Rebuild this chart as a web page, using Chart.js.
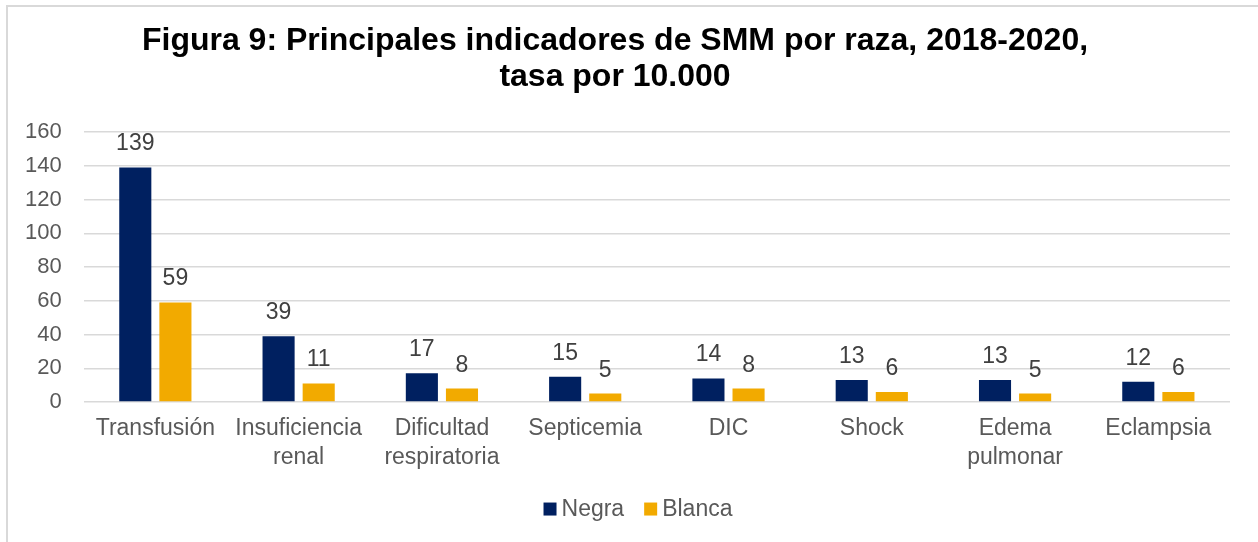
<!DOCTYPE html>
<html>
<head>
<meta charset="utf-8">
<script src="https://cdn.jsdelivr.net/npm/chart.js@4"></script>
<style>
    body { margin: 0; background: #fff; overflow: hidden; }
    #frame { position: absolute; left: 6px; top: 5px; width: 1300px; height: 600px; border: 2px solid #d9d9d9; }
    #wrap { position: absolute; left: 0; top: 0; width: 1232px; height: 542px; }
</style>
</head>
<body>
<div id="frame"></div>
<div id="wrap"><canvas id="chart"></canvas></div>
<script>
const categories = [
    "Transfusión",
    ["Insuficiencia", "renal"],
    ["Dificultad", "respiratoria"],
    "Septicemia",
    "DIC",
    "Shock",
    ["Edema", "pulmonar"],
    "Eclampsia"
];
const negra = [139, 39, 17, 15, 14, 13, 13, 12];
const blanca = [59, 11, 8, 5, 8, 6, 5, 6];
const yTicks = [0, 20, 40, 60, 80, 100, 120, 140, 160];

const fontFamily = "'Liberation Sans', Arial, sans-serif";

// value labels above each bar
const valueLabels = {
    id: "valueLabels",
    afterDatasetsDraw(chart) {
        const ctx = chart.ctx;
        ctx.save();
        ctx.font = "23px " + fontFamily;
        ctx.fillStyle = "#404040";
        ctx.textAlign = "center";
        ctx.textBaseline = "alphabetic";
        chart.data.datasets.forEach(function (ds, i) {
            const meta = chart.getDatasetMeta(i);
            meta.data.forEach(function (bar, j) {
                ctx.fillText(ds.data[j], bar.x, bar.y - 17);
            });
        });
        ctx.restore();
    }
};

// legend drawn by hand so the box/text spacing matches Excel
const bottomLegend = {
    id: "bottomLegend",
    afterDraw(chart) {
        const ctx = chart.ctx;
        const box = 13, gapText = 5, gapItem = 20;
        ctx.save();
        ctx.font = "23px " + fontFamily;
        ctx.textBaseline = "middle";
        ctx.textAlign = "left";
        const items = chart.data.datasets.map(ds => ({
            label: ds.label,
            color: ds.backgroundColor,
            w: box + gapText + ctx.measureText(ds.label).width
        }));
        let total = items.reduce((s, it) => s + it.w, 0) + gapItem * (items.length - 1);
        let x = chart.width / 2 + 22 - total / 2;
        const cy = chart.chartArea.bottom + 107;
        items.forEach(it => {
            ctx.fillStyle = it.color;
            ctx.fillRect(x, cy - box / 2, box, box);
            ctx.fillStyle = "#595959";
            ctx.fillText(it.label, x + box + gapText, cy + 1);
            x += it.w + gapItem;
        });
        ctx.restore();
    }
};

const ctx = document.getElementById("chart").getContext("2d");
new Chart(ctx, {
    type: "bar",
    data: {
        labels: categories,
        datasets: [{
            label: "Negra",
            data: negra,
            backgroundColor: "#002060",
            categoryPercentage: 0.56,
            barPercentage: 0.8
        }, {
            label: "Blanca",
            data: blanca,
            backgroundColor: "#F2AA00",
            categoryPercentage: 0.56,
            barPercentage: 0.8
        }]
    },
    options: {
        responsive: true,
        maintainAspectRatio: false,
        animation: false,
        layout: { padding: { top: 0, left: 0, right: 2, bottom: 58 } },
        plugins: {
            title: {
                display: true,
                text: ["Figura 9: Principales indicadores de SMM por raza, 2018-2020,", "tasa por 10.000"],
                color: "#000",
                font: { family: fontFamily, size: 32, weight: "bold", lineHeight: 1.125 },
                padding: { top: 23, bottom: 37 }
            },
            legend: { display: false },
            tooltip: { enabled: false }
        },
        scales: {
            x: {
                grid: { display: false, drawTicks: false },
                border: { display: false },
                ticks: {
                    color: "#595959",
                    font: { family: fontFamily, size: 23, lineHeight: 1.26 },
                    padding: 12,
                    maxRotation: 0,
                    autoSkip: false
                },
                afterFit(scale) {
                    // don't let the first/last label widen the side margins
                    scale.paddingLeft = 0;
                    scale.paddingRight = 0;
                }
            },
            y: {
                min: 0,
                max: 160,
                grid: { color: "#d9d9d9", lineWidth: 1.5, drawTicks: false },
                border: { display: false },
                afterBuildTicks(scale) { scale.ticks = yTicks.map(v => ({ value: v })); },
                afterFit(scale) { scale.width += 3; },
                ticks: {
                    color: "#595959",
                    font: { family: fontFamily, size: 22 },
                    padding: 22
                }
            }
        }
    },
    plugins: [valueLabels, bottomLegend]
});
</script>
</body>
</html>
